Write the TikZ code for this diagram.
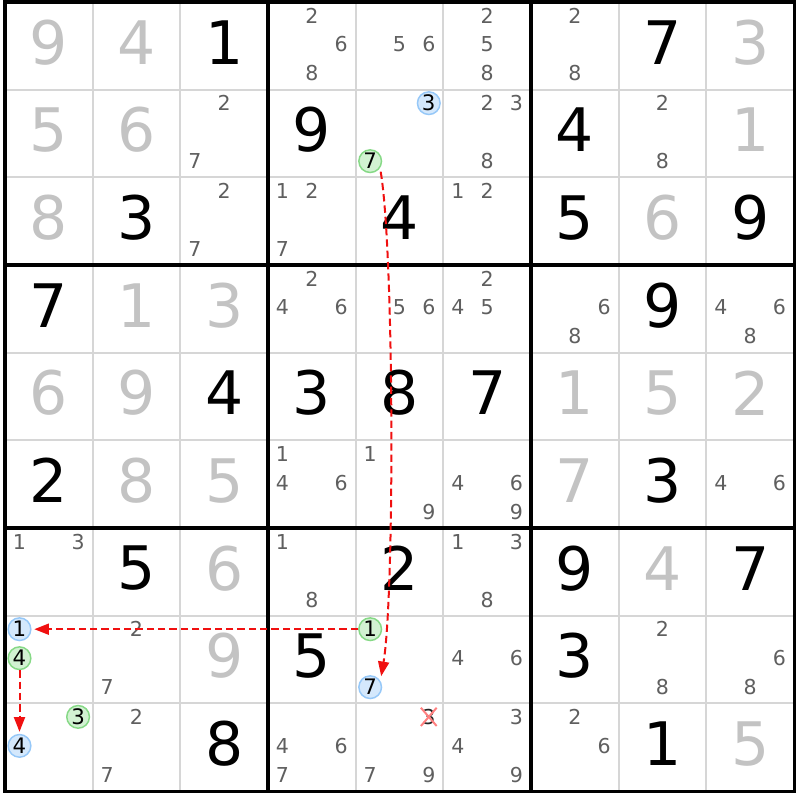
\documentclass[tikz,border=0pt]{standalone}
\usepackage{fontspec}
\setmainfont{DejaVu Sans}
\usetikzlibrary{arrows.meta,calc}
\definecolor{givenc}{HTML}{C3C3C3}
\definecolor{candc}{HTML}{5F5F5F}
\definecolor{thinc}{HTML}{D6D6D6}
\definecolor{bluef}{HTML}{D4E8FC}
\definecolor{blued}{HTML}{96C8F8}
\definecolor{greenf}{HTML}{D2F2D2}
\definecolor{greend}{HTML}{86D986}
\definecolor{arrc}{HTML}{F01010}
\definecolor{xc}{HTML}{FF8080}
\newcommand\GV[3]{\node[given] (d#1#2) at ({5+(#2-0.5)*87.67},{2+(#1-0.5)*87.67-3.5}) {#3};}
\newcommand\SV[3]{\node[solved] (d#1#2) at ({5+(#2-0.5)*87.67},{2+(#1-0.5)*87.67-3.5}) {#3};}
\newcommand\CL[3]{\foreach \dd in {#3}{%
  \pgfmathsetmacro\cxx{5+(#2-1)*87.67+14.5+29.3*mod(\dd-1,3)}%
  \pgfmathsetmacro\cyy{2+(#1-1)*87.67+13.5+29*floor((\dd-1)/3)}%
  \node[cand] (c#1#2\dd) at (\cxx,\cyy) {\dd};}}
\newcommand\HL[5]{%
  \pgfmathsetmacro\cxx{5+(#4-1)*87.67+14.5+29.3*mod(#5-1,3)}%
  \pgfmathsetmacro\cyy{2+(#3-1)*87.67+13.5+29*floor((#5-1)/3)}%
  \node[#1] (#2) at (\cxx,\cyy) {#5};}
\begin{document}
\begin{tikzpicture}[x=0.75pt,y=-0.75pt,
  given/.style={text=givenc,inner sep=0pt,font=\fontsize{45}{45}\selectfont},
  solved/.style={text=black,inner sep=0pt,font=\fontsize{45}{45}\selectfont},
  cand/.style={text=candc,inner sep=0pt,font=\fontsize{15.4}{16}\selectfont},
  hlblue/.style={circle,draw=blued,fill=bluef,line width=1.1pt,minimum size=17pt,inner sep=0pt,text=black,font=\fontsize{16}{16}\selectfont},
  hlgreen/.style={circle,draw=greend,fill=greenf,line width=1.1pt,minimum size=17pt,inner sep=0pt,text=black,font=\fontsize{16}{16}\selectfont},
  crossed/.style={text=black!85,inner sep=0.8pt,font=\fontsize{15.4}{16}\selectfont},
  xmark/.style={draw=xc,line width=1.5pt},
  thingrid/.style={draw=thinc,line width=1.5pt},
  thickgrid/.style={draw=black,line width=2.3pt,line cap=rect},
  arr/.style={draw=arrc,line width=1.5pt,dash pattern=on 5.5pt off 3pt,-{Triangle[length=11pt,width=8.2pt]}}]
\useasboundingbox (0,0) rectangle (800,800);
\fill[white] (0,0) rectangle (800,800);
% thin grid
\foreach \i in {1,2,4,5,7,8}{
  \draw[thingrid] ({5+\i*87.67},2) -- ({5+\i*87.67},791);
  \draw[thingrid] (5,{2+\i*87.67}) -- (794,{2+\i*87.67});
}
% row 1
\GV{1}{1}{9}\GV{1}{2}{4}\SV{1}{3}{1}\CL{1}{4}{2,6,8}\CL{1}{5}{5,6}\CL{1}{6}{2,5,8}\CL{1}{7}{2,8}\SV{1}{8}{7}\GV{1}{9}{3}
% row 2
\GV{2}{1}{5}\GV{2}{2}{6}\CL{2}{3}{2,7}\SV{2}{4}{9}\HL{hlblue}{bA}{2}{5}{3}\HL{hlgreen}{gA}{2}{5}{7}\CL{2}{6}{2,3,8}\SV{2}{7}{4}\CL{2}{8}{2,8}\GV{2}{9}{1}
% row 3
\GV{3}{1}{8}\SV{3}{2}{3}\CL{3}{3}{2,7}\CL{3}{4}{1,2,7}\SV{3}{5}{4}\CL{3}{6}{1,2}\SV{3}{7}{5}\GV{3}{8}{6}\SV{3}{9}{9}
% row 4
\SV{4}{1}{7}\GV{4}{2}{1}\GV{4}{3}{3}\CL{4}{4}{2,4,6}\CL{4}{5}{5,6}\CL{4}{6}{2,4,5}\CL{4}{7}{6,8}\SV{4}{8}{9}\CL{4}{9}{4,6,8}
% row 5
\GV{5}{1}{6}\GV{5}{2}{9}\SV{5}{3}{4}\SV{5}{4}{3}\SV{5}{5}{8}\SV{5}{6}{7}\GV{5}{7}{1}\GV{5}{8}{5}\GV{5}{9}{2}
% row 6
\SV{6}{1}{2}\GV{6}{2}{8}\GV{6}{3}{5}\CL{6}{4}{1,4,6}\CL{6}{5}{1,9}\CL{6}{6}{4,6,9}\GV{6}{7}{7}\SV{6}{8}{3}\CL{6}{9}{4,6}
% row 7
\CL{7}{1}{1,3}\SV{7}{2}{5}\GV{7}{3}{6}\CL{7}{4}{1,8}\SV{7}{5}{2}\CL{7}{6}{1,3,8}\SV{7}{7}{9}\GV{7}{8}{4}\SV{7}{9}{7}
% row 8
\HL{hlblue}{bC}{8}{1}{1}\HL{hlgreen}{gC}{8}{1}{4}\CL{8}{2}{2,7}\GV{8}{3}{9}\SV{8}{4}{5}\HL{hlgreen}{gB}{8}{5}{1}\HL{hlblue}{bB}{8}{5}{7}\CL{8}{6}{4,6}\SV{8}{7}{3}\CL{8}{8}{2,8}\CL{8}{9}{6,8}
% row 9
\HL{hlgreen}{gD}{9}{1}{3}\HL{hlblue}{bD}{9}{1}{4}\CL{9}{2}{2,7}\SV{9}{3}{8}\CL{9}{4}{4,6,7}\CL{9}{5}{7,9}\HL{crossed}{x95}{9}{5}{3}\CL{9}{6}{3,4,9}\CL{9}{7}{2,6}\SV{9}{8}{1}\GV{9}{9}{5}
\draw[xmark] (x95.north west) -- (x95.south east);
\draw[xmark] (x95.south west) -- (x95.north east);
% thick grid
\foreach \i in {0,3,6,9}{
  \draw[thickgrid] ({5+\i*87.67},2) -- ({5+\i*87.67},791);
  \draw[thickgrid] (5,{2+\i*87.67}) -- (794,{2+\i*87.67});
}
% links
\draw[arr] ($(gA)+(10.5,10.5)$) .. controls +(13.5,80) and +(13.5,-80) .. ($(bB)+(11,-11)$);
\draw[arr,shorten >=2pt] (gB) -- (bC);
\draw[arr,shorten >=1.5pt] (gC) -- (bD);
\end{tikzpicture}
\end{document}
